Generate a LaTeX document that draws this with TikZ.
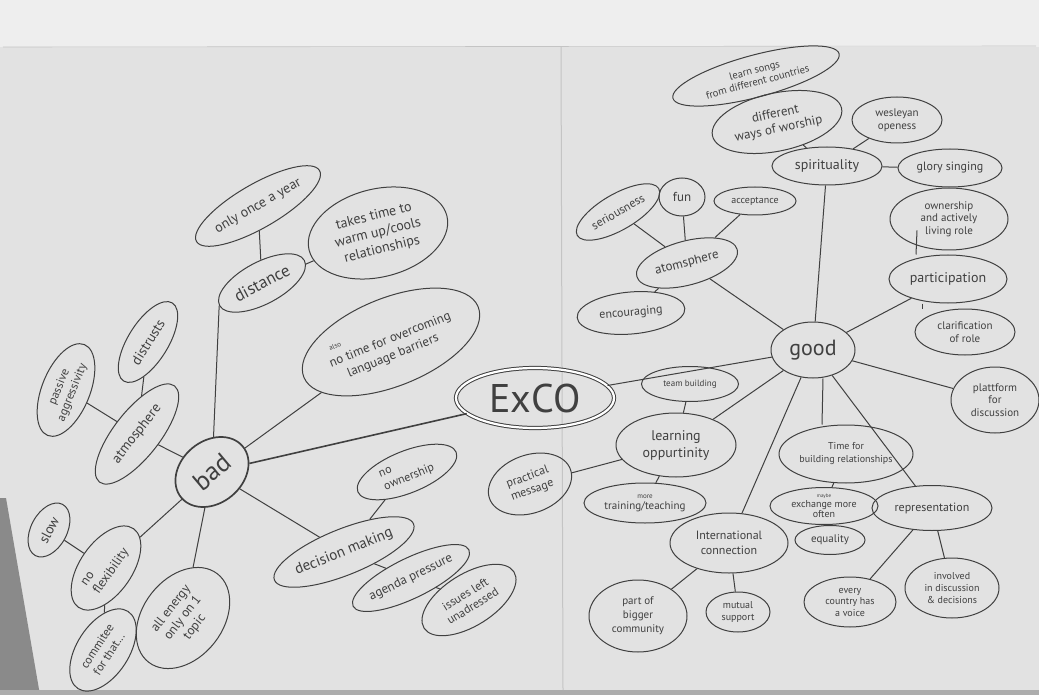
\documentclass[tikz,border=0pt]{standalone}
\usepackage{fontspec}
\setmainfont{PT Sans}
\usetikzlibrary{shapes.geometric}
\definecolor{paper}{HTML}{E2E2E2}
\definecolor{wallgrey}{HTML}{EEEEEE}
\definecolor{woodgrey}{HTML}{8A8A8A}
\definecolor{seamgrey}{HTML}{C4C4C4}
\definecolor{penink}{HTML}{404040}

\begin{document}
\begin{tikzpicture}[x=1pt, y=-1pt,
  bubble/.style={ellipse, draw=penink, line width=1pt, inner sep=0pt, align=center, text=penink, font=\fontsize{11}{13}\selectfont},
  link/.style={draw=penink, line width=1pt}]
% paper sheets
\useasboundingbox (0,0) rectangle (1039,695);
\fill[paper] (0,0) rectangle (1039,695);
\fill[wallgrey] (0,0) rectangle (1039,47);
\fill[woodgrey] (0,498) -- (6,498) -- (40,695) -- (0,695) -- cycle;
\fill[woodgrey!70] (0,690) rectangle (1039,695);
\draw[seamgrey, line width=1pt] (561,47) -- (563,690);
\draw[seamgrey, line width=0.6pt] (3,47) -- (1036,46);

% bad side
\node (bad) [bubble, line width=1.7pt, minimum width=80pt, minimum height=62pt, rotate=40, font=\fontsize{26}{26}\selectfont] at (212,472) {bad};
\node (exco) [bubble, double, double distance=2.2pt, minimum width=158pt, minimum height=60pt, font=\fontsize{40}{40}\selectfont] at (535,398) {ExCO};
\node (atmosbad) [bubble, minimum width=122pt, minimum height=46pt, rotate=52, font=\fontsize{14}{16}\selectfont] at (137,434) {atmosphere};
\node (passive) [bubble, minimum width=98pt, minimum height=48pt, rotate=68, font=\fontsize{12}{14}\selectfont] at (66,390) {passive\\aggressivity};
\node (distrusts) [bubble, minimum width=92pt, minimum height=40pt, rotate=58, font=\fontsize{14}{16}\selectfont] at (148,342) {distrusts};
\node (distance) [bubble, minimum width=96pt, minimum height=42pt, rotate=28, font=\fontsize{17}{19}\selectfont] at (262,283) {distance};
\node (onceayear) [bubble, minimum width=142pt, minimum height=44pt, rotate=30, font=\fontsize{14}{16}\selectfont] at (258,206) {only once a year};
\node (warmup) [bubble, minimum width=142pt, minimum height=88pt, rotate=14, font=\fontsize{14}{17}\selectfont] at (378,233) {takes time to\\warm up/cools\\relationships};
\node (barriers) [bubble, align=left, minimum width=188pt, minimum height=88pt, rotate=22, font=\fontsize{13}{16}\selectfont] at (391,342) {\hspace*{0.4em}{\scriptsize also}\\no time for overcoming\\\hspace*{1em}language barriers};
\node (noowner) [bubble, align=left, minimum width=106pt, minimum height=42pt, rotate=22, font=\fontsize{12}{14}\selectfont] at (407,472) {no\\ownership};
\node (decision) [bubble, minimum width=150pt, minimum height=46pt, rotate=22, font=\fontsize{15}{17}\selectfont] at (344,552) {decision making};
\node (agenda) [bubble, minimum width=128pt, minimum height=40pt, rotate=26, font=\fontsize{13}{15}\selectfont] at (411,578) {agenda pressure};
\node (unaddressed) [bubble, minimum width=106pt, minimum height=52pt, rotate=32, font=\fontsize{12}{14}\selectfont] at (469,600) {issues left\\unadressed};
\node (slow) [bubble, minimum width=58pt, minimum height=36pt, rotate=62, font=\fontsize{14}{16}\selectfont] at (49,530) {slow};
\node (flexibility) [bubble, align=left, minimum width=96pt, minimum height=52pt, rotate=55, font=\fontsize{13}{15}\selectfont] at (106,568) {no\\flexibility};
\node (committee) [bubble, minimum width=92pt, minimum height=52pt, rotate=57, font=\fontsize{12}{14}\selectfont] at (103,650) {commitee\\for that...};
\node (onetopic) [bubble, minimum width=112pt, minimum height=80pt, rotate=52, font=\fontsize{13}{15}\selectfont] at (183,618) {all energy\\only on 1\\topic};

\draw[link, line width=1.6pt] (bad) -- (exco);
\draw[link] (bad) -- (atmosbad);
\draw[link] (atmosbad) -- (passive);
\draw[link] (atmosbad) -- (distrusts);
\draw[link] (bad) -- (distance.west);
\draw[link] (distance) -- (onceayear);
\draw[link] (distance) -- (warmup);
\draw[link] (bad) -- (barriers);
\draw[link] (bad) -- (decision);
\draw[link] (decision) -- (noowner);
\draw[link] (decision) -- (agenda);
\draw[link] (agenda) -- (unaddressed);
\draw[link] (bad) -- (flexibility);
\draw[link] (flexibility) -- (slow);
\draw[link] (flexibility) -- (committee);
\draw[link] (bad) -- (onetopic);

% good side
\node (good) [bubble, minimum width=84pt, minimum height=56pt, font=\fontsize{22}{22}\selectfont] at (813,350) {good};
\node (spirit) [bubble, minimum width=110pt, minimum height=38pt, font=\fontsize{14}{16}\selectfont] at (827,166) {spirituality};
\node (worship) [bubble, minimum width=132pt, minimum height=58pt, rotate=12, font=\fontsize{13}{15}\selectfont] at (777,122) {different\\ways of worship};
\node (songs) [bubble, minimum width=172pt, minimum height=42pt, rotate=15, font=\fontsize{10.5}{12}\selectfont] at (756,76) {learn songs\\from different countries};
\node (wesleyan) [bubble, minimum width=90pt, minimum height=46pt] at (897,120) {wesleyan\\openess};
\node (glory) [bubble, minimum width=104pt, minimum height=38pt, font=\fontsize{12}{14}\selectfont] at (950,168) {glory singing};
\node (atmosgood) [bubble, minimum width=104pt, minimum height=44pt, rotate=15, font=\fontsize{13}{15}\selectfont] at (687,263) {atomsphere};
\node (serious) [bubble, minimum width=94pt, minimum height=36pt, rotate=30, font=\fontsize{12}{14}\selectfont] at (618,212) {seriousness};
\node (fun) [bubble, minimum width=46pt, minimum height=38pt, font=\fontsize{13}{15}\selectfont] at (682,197) {fun};
\node (accept) [bubble, minimum width=82pt, minimum height=28pt, font=\fontsize{10}{12}\selectfont] at (755,201) {acceptance};
\node (encourage) [bubble, minimum width=108pt, minimum height=42pt, rotate=5, font=\fontsize{12}{14}\selectfont] at (631,313) {encouraging};
\node (ownrole) [bubble, minimum width=118pt, minimum height=62pt, font=\fontsize{11}{12.5}\selectfont] at (949,219) {ownership\\and actively\\living role};
\node (particip) [bubble, minimum width=118pt, minimum height=48pt, font=\fontsize{14}{16}\selectfont] at (948,279) {participation};
\node (clarify) [bubble, minimum width=100pt, minimum height=46pt] at (965,332) {clarification\\of role};
\node (platform) [bubble, minimum width=88pt, minimum height=66pt, font=\fontsize{11}{12.5}\selectfont] at (995,400) {plattform\\for\\discussion};
\node (teambuild) [bubble, minimum width=97pt, minimum height=35pt, font=\fontsize{9}{11}\selectfont] at (690,384) {team building};
\node (learning) [bubble, minimum width=120pt, minimum height=64pt, font=\fontsize{14}{17}\selectfont] at (676,445) {learning\\oppurtinity};
\node (practical) [bubble, minimum width=86pt, minimum height=58pt, rotate=20, font=\fontsize{12}{14}\selectfont] at (530,484) {practical\\message};
\node (training) [bubble, minimum width=122pt, minimum height=40pt, font=\fontsize{11}{11}\selectfont] at (645,503) {{\scriptsize more}\\training/teaching};
\node (timefor) [bubble, minimum width=134pt, minimum height=58pt, font=\fontsize{10}{13}\selectfont] at (846,454) {Time for\\building relationships};
\node (exchange) [bubble, minimum width=108pt, minimum height=37pt, font=\fontsize{10}{10}\selectfont] at (824,506) {{\tiny maybe}\\exchange more\\often};
\node (represent) [bubble, minimum width=120pt, minimum height=45pt, font=\fontsize{12}{14}\selectfont] at (932,508) {representation};
\node (equality) [bubble, minimum width=70pt, minimum height=29pt] at (830,540) {equality};
\node (voice) [bubble, minimum width=92pt, minimum height=50pt, font=\fontsize{10}{11.5}\selectfont] at (850,602) {every\\country has\\a voice};
\node (involved) [bubble, minimum width=94pt, minimum height=60pt, font=\fontsize{10}{12}\selectfont] at (952,588) {involved\\in discussion\\\& decisions};
\node (intl) [bubble, minimum width=118pt, minimum height=60pt, font=\fontsize{12}{15}\selectfont] at (729,543) {International\\connection};
\node (bigger) [bubble, minimum width=98pt, minimum height=72pt, font=\fontsize{11}{14}\selectfont] at (638,616) {part of\\bigger\\community};
\node (mutual) [bubble, minimum width=64pt, minimum height=40pt, font=\fontsize{10}{12}\selectfont] at (738,612) {mutual\\support};

\draw[link] (exco) -- (good);
\draw[link] (good) -- (spirit);
\draw[link] (spirit) -- (worship);
\draw[link] (worship) -- (songs);
\draw[link] (spirit) -- (wesleyan);
\draw[link] (spirit) -- (glory);
\draw[link] (good) -- (atmosgood);
\draw[link] (atmosgood) -- (serious);
\draw[link] (atmosgood) -- (fun);
\draw[link] (atmosgood) -- (accept);
\draw[link] (atmosgood) -- (encourage);
\draw[link] (good) -- (particip);
\draw[link] ([xshift=-32pt]particip.north) -- ([xshift=-32pt, yshift=20pt]ownrole.south);
\draw[link] ([xshift=-26pt]particip.south) -- ([xshift=-43pt]clarify.north);
\draw[link] (good) -- (platform);
\draw[link] (good) -- (learning);
\draw[link] (learning) -- (teambuild);
\draw[link] (learning) -- (practical);
\draw[link] (learning) -- (training);
\draw[link] (good) -- (intl);
\draw[link] ([xshift=10pt]good.south) -- ([xshift=-24pt]timefor.north);
\draw[link] (timefor) -- (exchange);
\draw[link] (good) -- (represent);
\draw[link] (represent) -- (voice);
\draw[link] (represent) -- (involved);
\draw[link] (intl) -- (bigger);
\draw[link] (intl) -- (mutual);
\end{tikzpicture}
\end{document}
